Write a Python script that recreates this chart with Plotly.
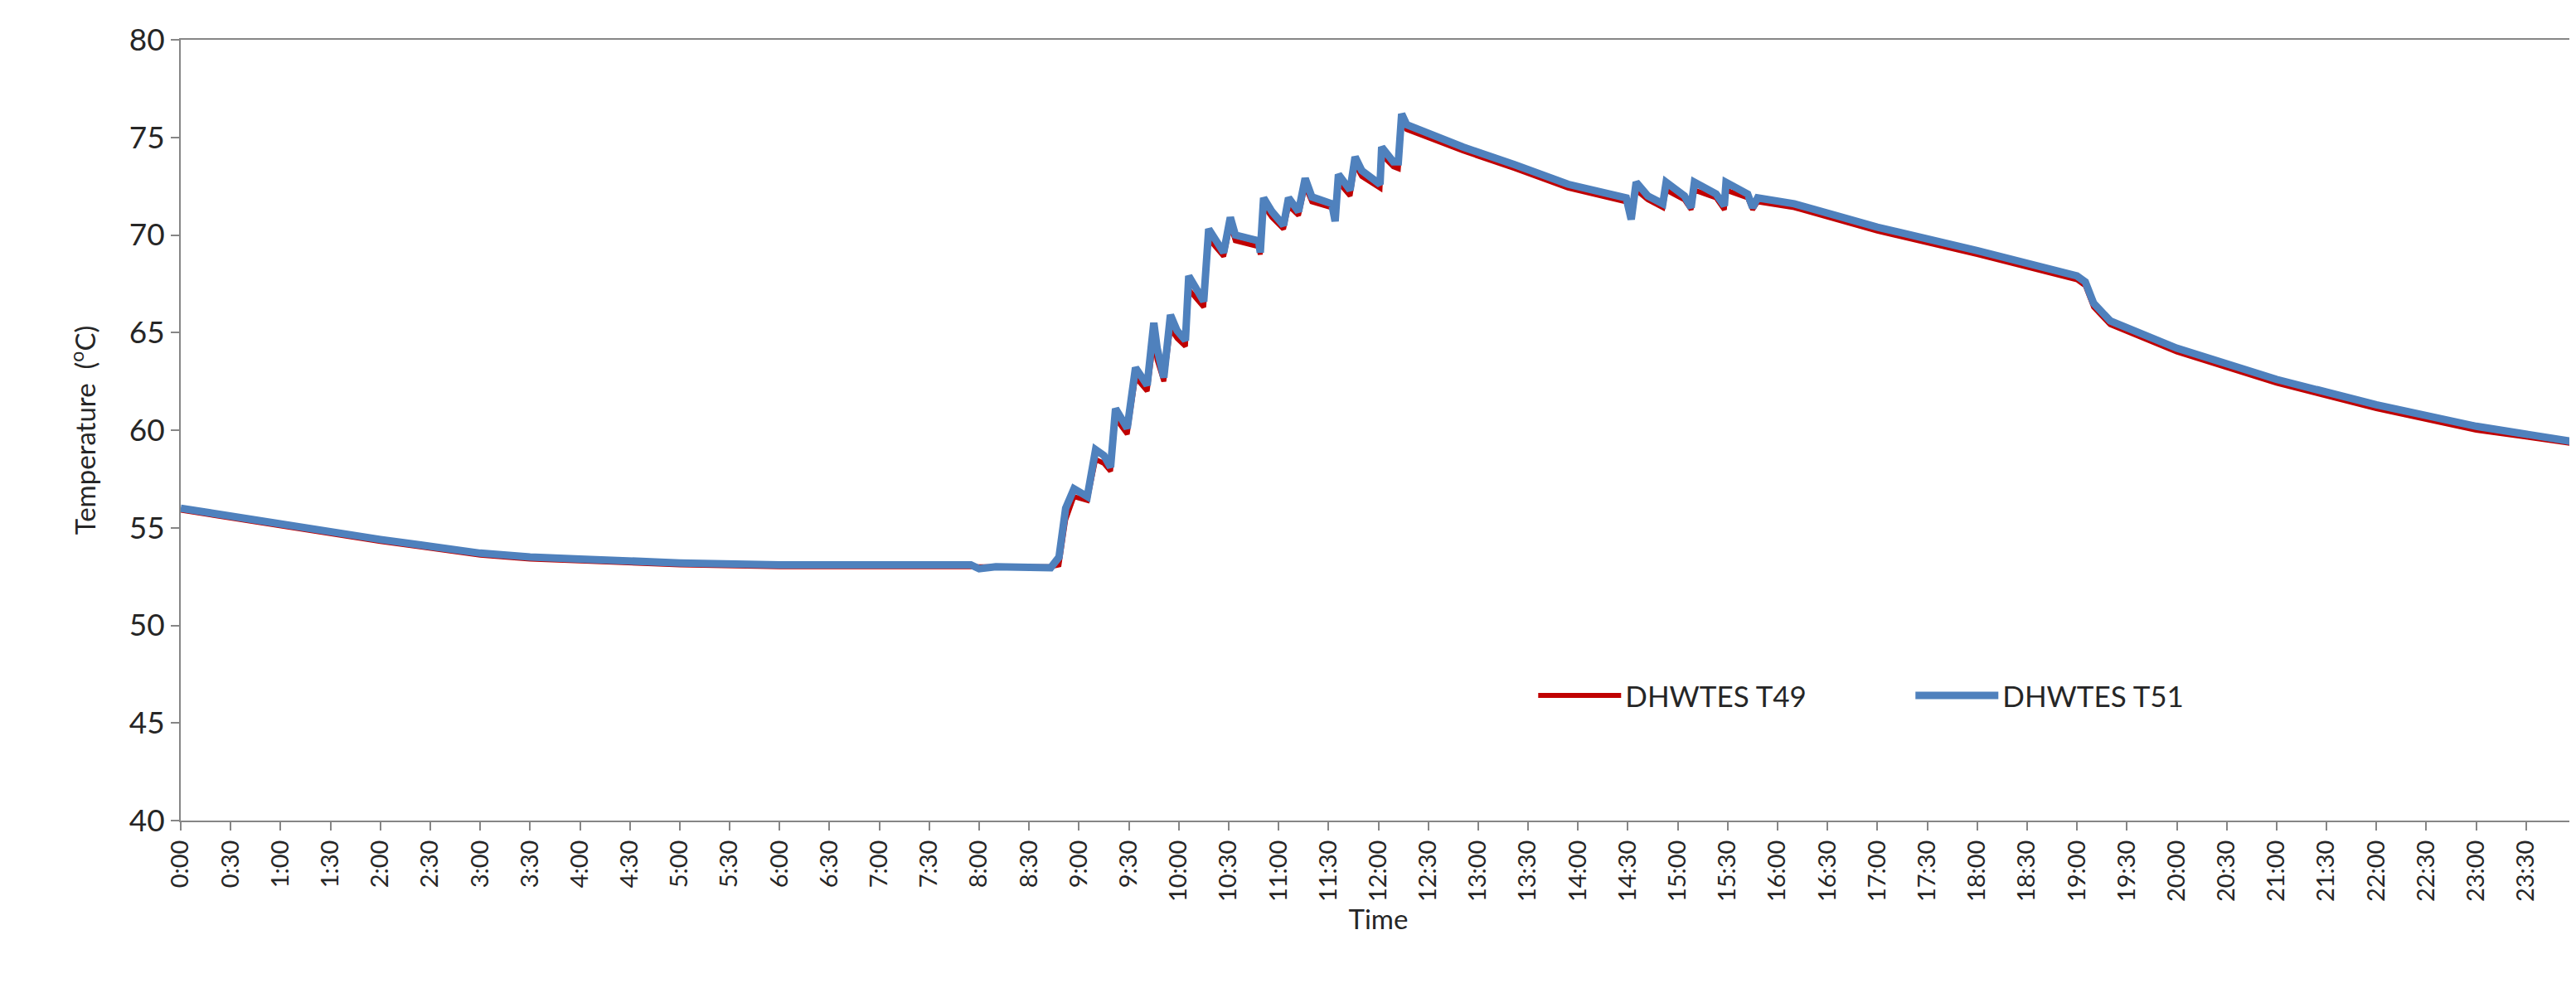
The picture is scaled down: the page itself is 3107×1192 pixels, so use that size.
import plotly.graph_objects as go

# time in minutes after midnight
minutes = [0, 60, 120, 180, 210, 240, 300, 360, 420, 475, 480, 490, 523, 528, 532, 537, 545,
           550, 555, 559, 562, 569, 574, 581, 585, 587, 591, 595, 599, 604, 606, 615, 618,
           627, 631, 634, 648, 649, 651, 656, 663, 666, 672, 676, 680, 692, 694, 696, 703,
           706, 710, 721, 722, 729, 732, 734, 737, 771, 802, 834, 869, 872, 875, 882, 891,
           893, 904, 908, 910, 923, 928, 929, 942, 945, 948, 970, 1020, 1080, 1140, 1145,
           1150, 1160, 1200, 1260, 1320, 1380, 1439]

t51 = [56.0, 55.2, 54.4, 53.7, 53.5, 53.4, 53.2, 53.1, 53.1, 53.1, 52.9, 53.0, 52.95, 53.5,
       56.0, 57.0, 56.6, 59.0, 58.7, 58.1, 61.1, 60.1, 63.2, 62.3, 65.5, 64.2, 62.7, 65.9,
       65.1, 64.6, 67.9, 66.6, 70.3, 69.1, 70.9, 70.0, 69.7, 69.1, 71.9, 71.2, 70.5, 71.9,
       71.2, 72.9, 71.95, 71.6, 70.7, 73.1, 72.3, 74.0, 73.3, 72.6, 74.5, 73.75, 73.75, 76.2,
       75.65, 74.5, 73.6, 72.6, 71.9, 70.8, 72.7, 72.0, 71.6, 72.7, 72.0, 71.4, 72.7, 72.1,
       71.5, 72.7, 72.1, 71.4, 71.9, 71.6, 70.4, 69.2, 67.9, 67.6, 66.5, 65.6, 64.2, 62.6,
       61.3, 60.2, 59.4]

t49 = [55.9, 55.1, 54.3, 53.6, 53.4, 53.3, 53.1, 53.0, 53.0, 53.0, 53.0, 53.0, 53.0, 53.1,
       55.4, 56.6, 56.4, 58.5, 58.3, 57.9, 60.6, 59.8, 62.7, 62.0, 64.6, 63.6, 62.5, 65.2,
       64.7, 64.3, 67.2, 66.3, 69.8, 68.9, 70.5, 69.7, 69.4, 69.0, 71.5, 70.9, 70.3, 71.5,
       71.0, 72.5, 71.7, 71.4, 70.8, 72.7, 72.0, 73.6, 73.0, 72.4, 74.1, 73.5, 73.4, 75.7,
       75.4, 74.3, 73.4, 72.4, 71.7, 71.3, 72.3, 71.8, 71.4, 72.3, 71.8, 71.3, 72.3, 71.9,
       71.3, 72.3, 71.9, 71.3, 71.7, 71.4, 70.2, 69.0, 67.7, 67.4, 66.3, 65.4, 64.0, 62.4,
       61.1, 60.0, 59.3]

tick_vals = list(range(0, 1440, 30))
tick_text = [f"{m // 60}:{m % 60:02d}" for m in tick_vals]

FONT = "Lato, Liberation Sans, sans-serif"

fig = go.Figure()
fig.add_trace(go.Scatter(x=minutes, y=t49, mode="lines", name="DHWTES T49",
                         line=dict(color="#C00000", width=6)))
fig.add_trace(go.Scatter(x=minutes, y=t51, mode="lines", name="DHWTES T51",
                         line=dict(color="#4F81BD", width=9)))

axis_line = dict(showline=True, linecolor="#868686", linewidth=2, mirror=True,
                 showgrid=False, zeroline=False, ticks="outside", tickcolor="#868686",
                 ticklen=10, tickwidth=2)

fig.update_layout(
    width=3107, height=1192,
    margin=dict(l=210, r=6, t=40, b=210),
    plot_bgcolor="white", paper_bgcolor="white",
    font=dict(family=FONT, color="#262626"),
    xaxis=dict(range=[0, 1440], tickvals=tick_vals, ticktext=tick_text, tickangle=-90,
               tickfont=dict(size=29), title=dict(text="Time", font=dict(size=33), standoff=8),
               **axis_line),
    yaxis=dict(range=[40, 80], dtick=5, tickfont=dict(size=37),
               title=dict(text="Temperature  (<sup>o</sup>C)", font=dict(size=33), standoff=30),
               **axis_line),
    legend=dict(orientation="h", x=0.565, y=0.16, xanchor="left", yanchor="middle",
                font=dict(size=35), itemwidth=100, bgcolor="rgba(0,0,0,0)",
                entrywidth=340),
)

fig.write_html("out.html")
